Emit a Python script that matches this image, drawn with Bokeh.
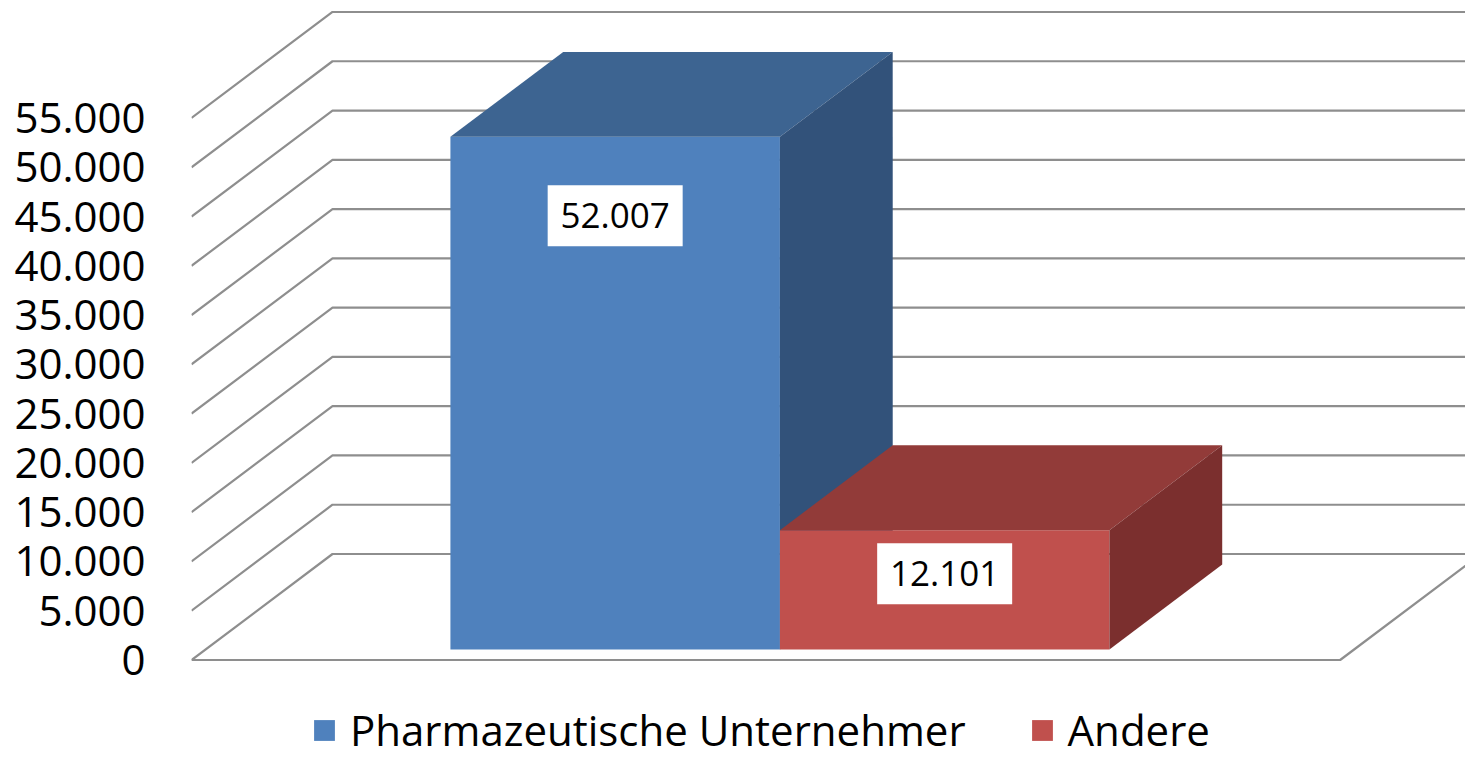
from bokeh.plotting import figure
from bokeh.models import Range1d, FixedTicker, Legend, LegendItem
from bokeh.embed import file_html
from bokeh.resources import INLINE
from bokeh.core.properties import value

# ---- data ----
categories = ["Pharmazeutische Unternehmer", "Andere"]
values = [52007, 12101]
value_labels = ["52.007", "12.101"]
tick_values = list(range(0, 55001, 5000))
tick_labels = [f"{t:,}".replace(",", ".") for t in tick_values]

# ---- styles ----
front_colors = ["#4F81BD", "#C0504D"]
top_colors = ["#3D6491", "#923B39"]
side_colors = ["#32527A", "#7B2F2E"]
GRID_COLOR = "#8E8E8E"
FONT = "Open Sans"

# ---- projection / layout ----
W, H = 1465, 759
FRAME_LEFT = 191
ZERO_Y_PX = 659.5                # value 0 on the front plane, px from figure top
PX_PER_UNIT = 329.5              # px per category width
PX_PER_VAL = 0.009855            # px per value unit
DEPTH_X = 141 / PX_PER_UNIT      # depth vector in data units
DEPTH_Y = 106 / PX_PER_VAL
GAP = 0.743                      # side gap (category widths)
D0, D1 = 0.1, 0.9                # bar depth span (fraction of wall depth)
LABEL_DROP_PX = [79, 43.5]
BOX_W = 2 * GAP + len(categories)

x_end = (W - FRAME_LEFT) / PX_PER_UNIT
y_end = ZERO_Y_PX / PX_PER_VAL
y_start = -(H - ZERO_Y_PX) / PX_PER_VAL

p = figure(width=W, height=H, output_backend="svg", toolbar_location=None,
           x_range=Range1d(0, x_end), y_range=Range1d(y_start, y_end),
           x_axis_location=None, y_axis_location="left",
           min_border_left=FRAME_LEFT, min_border_right=0,
           min_border_top=0, min_border_bottom=0)
p.outline_line_color = None
p.xgrid.visible = False
p.ygrid.visible = False
p.background_fill_color = "white"
p.border_fill_color = "white"

ax = p.yaxis[0]
ax.ticker = FixedTicker(ticks=tick_values)
ax.major_label_overrides = {t: l for t, l in zip(tick_values, tick_labels)}
ax.axis_line_color = None
ax.major_tick_line_color = None
ax.minor_tick_line_color = None
ax.major_tick_out = 0
ax.major_tick_in = 0
ax.major_label_standoff = 46
ax.major_label_text_font = FONT
ax.major_label_text_font_size = "42px"
ax.major_label_text_color = "black"

# ---- walls / grid ----
gx, gy = [], []
for t in tick_values:
    gx.append([0, DEPTH_X, x_end + 0.1])
    gy.append([t, t + DEPTH_Y, t + DEPTH_Y])
gx.append([0, BOX_W, BOX_W + DEPTH_X])
gy.append([0, 0, DEPTH_Y])
p.multi_line(gx, gy, line_color=GRID_COLOR, line_width=2.2)

# ---- bars ----
front_renderers = []
for i, v in enumerate(values):
    x0 = GAP + i
    x1 = x0 + 1
    fx0, fx1 = x0 + D0 * DEPTH_X, x1 + D0 * DEPTH_X
    fy0, fy1 = D0 * DEPTH_Y, v + D0 * DEPTH_Y
    bx0, bx1 = x0 + D1 * DEPTH_X, x1 + D1 * DEPTH_X
    by0, by1 = D1 * DEPTH_Y, v + D1 * DEPTH_Y
    r = p.quad(left=[fx0], right=[fx1], bottom=[fy0], top=[fy1],
               fill_color=front_colors[i], line_color=None)
    front_renderers.append(r)
    p.patch([fx0, fx1, bx1, bx0], [fy1, fy1, by1, by1],
            fill_color=top_colors[i], line_color=None)
    p.patch([fx1, fx1, bx1, bx1], [fy0, fy1, by1, by0],
            fill_color=side_colors[i], line_color=None)

# ---- data labels ----
lx, ly = [], []
for i, v in enumerate(values):
    x0 = GAP + i
    lx.append(x0 + 0.5 + D0 * DEPTH_X)
    ly.append(v + D0 * DEPTH_Y - LABEL_DROP_PX[i] / PX_PER_VAL)
p.rect(x=lx, y=ly, width=135, height=61, width_units="screen",
       height_units="screen", fill_color="white", line_color=None)
p.text(x=lx, y=ly, text=value_labels, text_align="center",
       text_baseline="middle", text_font=value(FONT),
       text_font_size="35px", text_color="black")

# ---- legend ----
legend = Legend(items=[LegendItem(label=c, renderers=[r])
                       for c, r in zip(categories, front_renderers)],
                orientation="horizontal", location=(120, 1),
                glyph_width=26, glyph_height=26, label_standoff=13,
                spacing=63, padding=0, margin=0,
                label_text_font=FONT, label_text_font_size="42px",
                label_text_color="black",
                background_fill_alpha=0, border_line_color=None)
p.add_layout(legend)

open("out.html", "w").write(file_html(p, INLINE))
